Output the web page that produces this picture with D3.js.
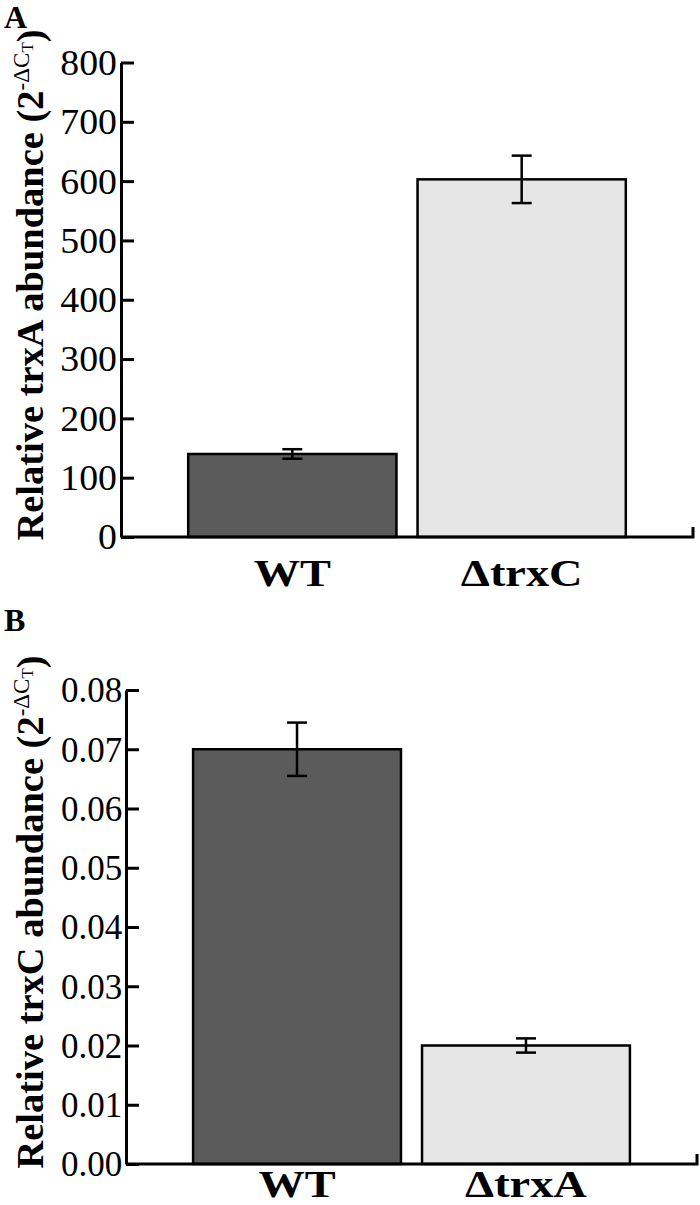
<!DOCTYPE html>
<html><head><meta charset="utf-8">
<script src="https://cdn.jsdelivr.net/npm/d3@7"></script>
<style>body{margin:0;background:#fff}svg{display:block}text{font-family:"Liberation Serif","Times New Roman",serif}</style>
</head><body>
<script>
const categoriesA = ["WT", "ΔtrxC"];
const valuesA = [140, 603];
const errorsA = [8, 40];
const ticksA = [0, 100, 200, 300, 400, 500, 600, 700, 800];

const categoriesB = ["WT", "ΔtrxA"];
const valuesB = [0.070, 0.020];
const errorsB = [0.0045, 0.0012];
const ticksB = [0, 0.01, 0.02, 0.03, 0.04, 0.05, 0.06, 0.07, 0.08];

const fills = ["#5b5b5b", "#e6e6e6"];

const svg = d3.select("body").append("svg").attr("width", 700).attr("height", 1205);

function panel(cfg) {
  const g = svg.append("g");
  const x = d3.scaleBand().domain(cfg.cats).range([cfg.x0, cfg.x1]).paddingInner(0.092).paddingOuter(0.293);
  const y = d3.scaleLinear().domain([0, cfg.max]).range([cfg.y0, cfg.y1]);
  g.selectAll("rect.bar").data(cfg.vals).enter().append("rect")
    .attr("x", (d, i) => x(cfg.cats[i]))
    .attr("y", d => y(d))
    .attr("width", x.bandwidth())
    .attr("height", d => y(0) - y(d))
    .attr("fill", (d, i) => fills[i])
    .attr("stroke", "#000").attr("stroke-width", 2.5);
  cfg.vals.forEach((v, i) => {
    const cx = x(cfg.cats[i]) + x.bandwidth() / 2;
    const e = cfg.errs[i];
    g.append("line").attr("x1", cx).attr("x2", cx).attr("y1", y(v + e)).attr("y2", y(v - e)).attr("stroke", "#000").attr("stroke-width", 2.5);
    [v + e, v - e].forEach(t => g.append("line").attr("x1", cx - 10).attr("x2", cx + 10).attr("y1", y(t)).attr("y2", y(t)).attr("stroke", "#000").attr("stroke-width", 2.5));
  });
  const ax = g.append("g").attr("transform", `translate(${cfg.x0},0)`)
    .call(d3.axisLeft(y).tickValues(cfg.ticks).tickFormat(cfg.fmt).tickSizeInner(-13).tickSizeOuter(0).tickPadding(3));
  ax.select(".domain").attr("stroke", "#000").attr("stroke-width", 3);
  ax.selectAll(".tick line").attr("stroke", "#000").attr("stroke-width", 3);
  ax.selectAll(".tick text").attr("x", -3.7).attr("font-size", 35).attr("fill", "#000").attr("dy", "0.34em")
    .attr("transform", `scale(${cfg.tickStretch},1)`);
  g.append("path").attr("d", `M${cfg.x0},${cfg.y0}H${cfg.x1}V${cfg.y0 - 10}`)
    .attr("fill", "none").attr("stroke", "#000").attr("stroke-width", 3);
  g.selectAll("text.xl").data(cfg.cats).enter().append("text")
    .attr("transform", d => `translate(${x(d) + x.bandwidth() / 2},${cfg.xlY}) scale(1.22,1)`)
    .attr("text-anchor", "middle").attr("font-weight", "bold").attr("font-size", 38).text(d => d);
  const t = g.append("text").attr("transform", `translate(43,${cfg.tc}) rotate(-90)`)
    .attr("text-anchor", "middle").attr("font-weight", "bold").attr("font-size", 38.5);
  t.append("tspan").text(cfg.title + " (2");
  t.append("tspan").attr("font-size", 23).attr("font-weight", "normal").attr("dy", -14).text("-ΔC");
  t.append("tspan").attr("font-size", 17).attr("font-weight", "normal").attr("dy", 4).text("T");
  t.append("tspan").attr("dy", 10).text(")");
  svg.append("text").attr("x", 4).attr("y", cfg.letterY).attr("font-weight", "bold").attr("font-size", 32).text(cfg.letter);
}

panel({cats: categoriesA, vals: valuesA, errs: errorsA, ticks: ticksA, max: 800,
  x0: 121, x1: 693, y0: 537, y1: 62.5, fmt: d3.format("d"), tickStretch: 1.08, xlY: 586,
  title: "Relative trxA abundance", tc: 285, letter: "A", letterY: 28});
panel({cats: categoriesB, vals: valuesB, errs: errorsB, ticks: ticksB, max: 0.08,
  x0: 126, x1: 697, y0: 1164, y1: 690, fmt: d3.format(".2f"), tickStretch: 1.0, xlY: 1197,
  title: "Relative trxC abundance", tc: 912, letter: "B", letterY: 631});
</script>
</body></html>
